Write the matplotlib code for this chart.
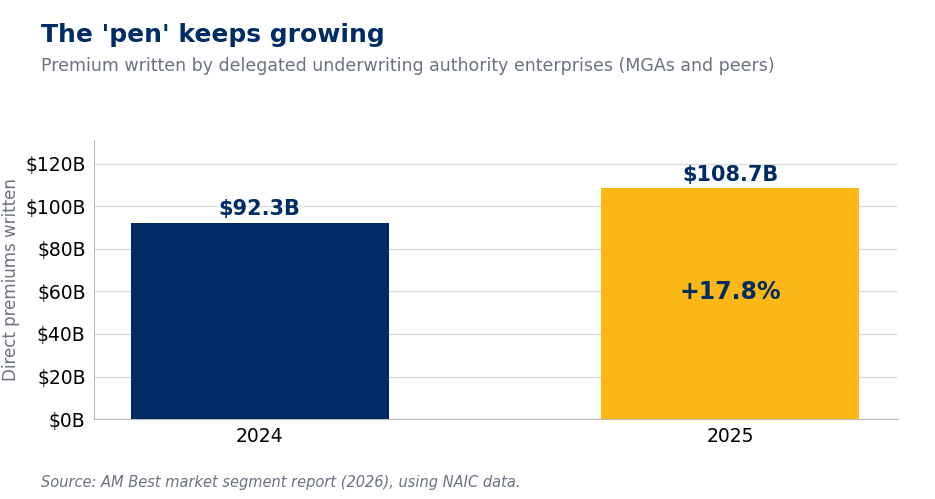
import matplotlib
matplotlib.use("Agg")
import matplotlib.pyplot as plt

years = ["2024", "2025"]
premiums = [92.3, 108.7]
bar_labels = ["$92.3B", "$108.7B"]
growth_label = "+17.8%"
yticks = [0, 20, 40, 60, 80, 100, 120]

navy = "#002C65"
gold = "#FDB714"

fig = plt.figure(figsize=(9.35, 4.99), dpi=100)
ax = fig.add_axes([0.1005, 0.160, 0.8595, 0.559])

x = range(len(years))
ax.bar(x, premiums, width=0.548, color=[navy, gold], zorder=3)

for i, (v, lab) in enumerate(zip(premiums, bar_labels)):
    ax.text(i, v + 1.5, lab, ha="center", va="bottom", fontsize=15,
            fontweight="bold", color=navy)
ax.text(1, premiums[1] * 0.55, growth_label, ha="center", va="center",
        fontsize=17, fontweight="bold", color=navy)

ax.set_xlim(-0.352, 1.355)
ax.set_ylim(0, 131)
ax.set_xticks(list(x))
ax.set_xticklabels(years, fontsize=13.5)
ax.set_yticks(yticks)
ax.set_yticklabels([f"${t}B" for t in yticks], fontsize=13.5)
ax.tick_params(length=0, pad=6)
ax.grid(axis="y", color="#dddddd", linewidth=1, zorder=0)
for s in ["top", "right"]:
    ax.spines[s].set_visible(False)
for s in ["left", "bottom"]:
    ax.spines[s].set_color("#bbbbbb")
ax.set_ylabel("Direct premiums written", fontsize=12, color="#6b7280", labelpad=4)

fig.text(0.044, 0.93, "The 'pen' keeps growing", fontsize=18, fontweight="bold",
         color=navy, va="center")
fig.text(0.044, 0.868, "Premium written by delegated underwriting authority enterprises (MGAs and peers)",
         fontsize=12.5, color="#6b7280", va="center")
fig.text(0.044, 0.033, "Source: AM Best market segment report (2026), using NAIC data.",
         fontsize=10.5, style="italic", color="#6b7280", va="center")

fig.savefig("out.png", dpi=100)
